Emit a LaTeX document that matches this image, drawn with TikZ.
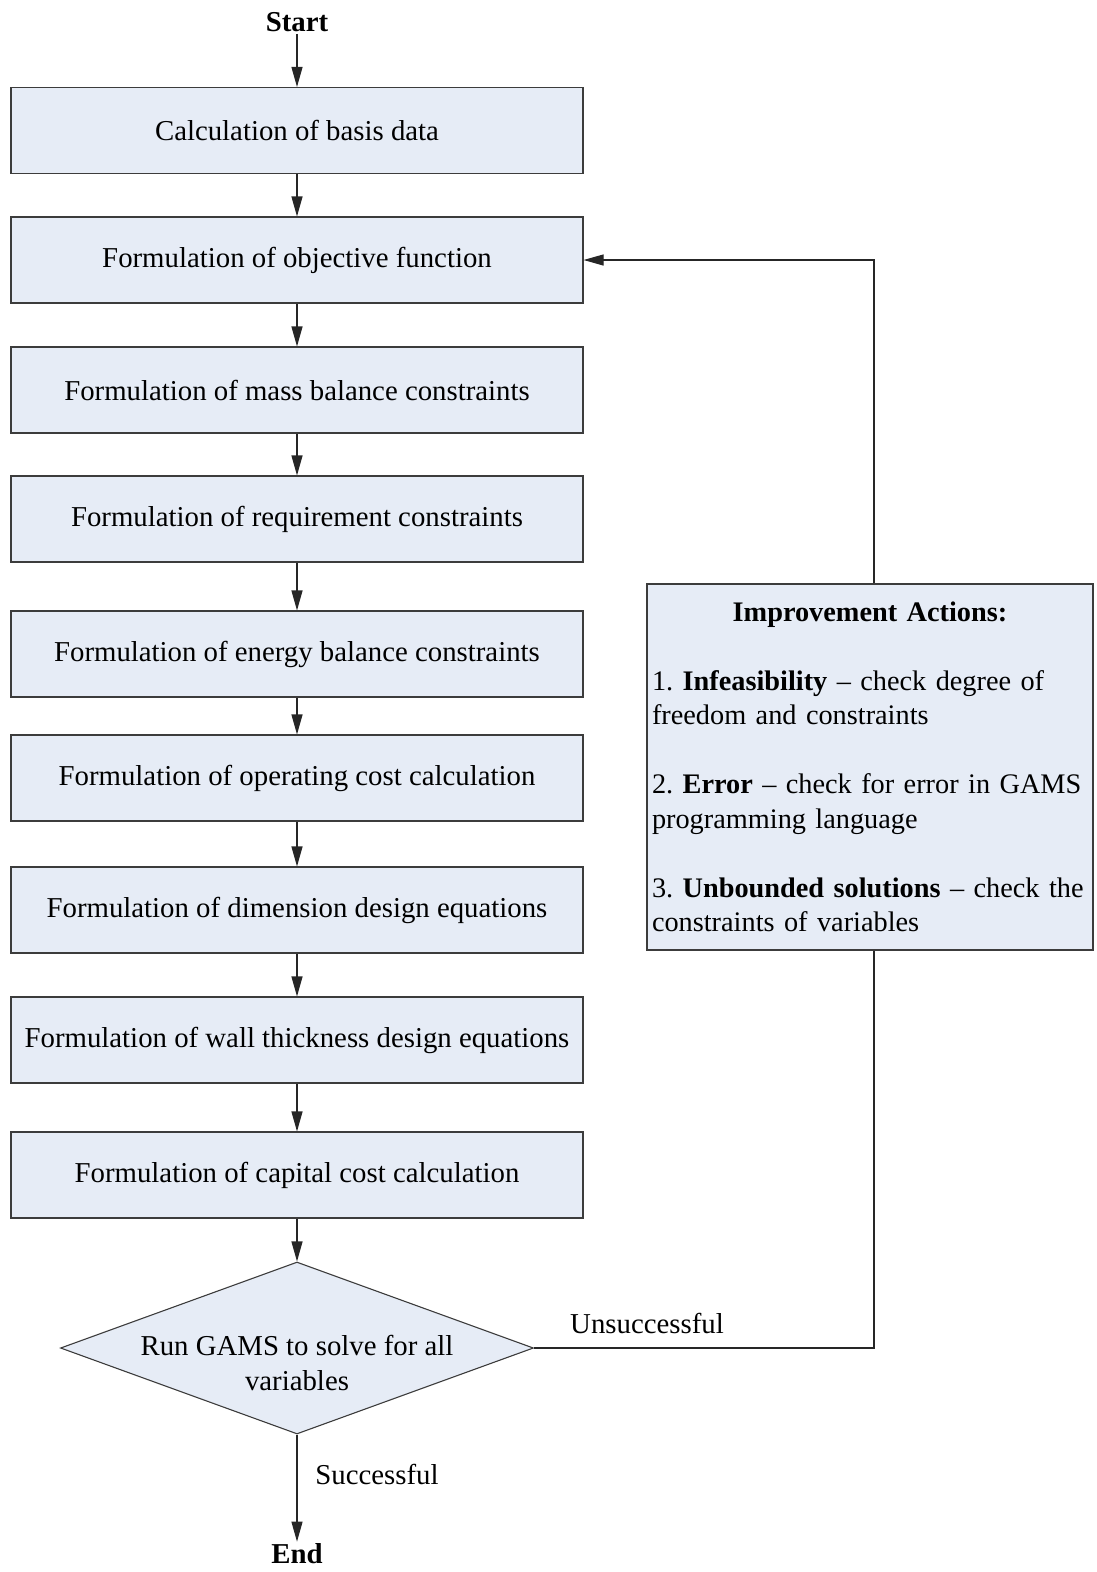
\documentclass[tikz,border=0pt]{standalone}
\usepackage{fontspec}
\setmainfont{Liberation Serif}
\usetikzlibrary{arrows.meta,shapes.geometric}
\definecolor{boxfill}{RGB}{230,236,246}
\definecolor{boxedge}{RGB}{60,60,60}
\tikzset{
  stepbox/.style={draw=boxedge, fill=boxfill, line width=1.1pt, minimum width=572pt, minimum height=86pt, inner sep=0pt, font=\fontsize{28.8}{35}\selectfont},
  conn/.style={draw=black!85, line width=1.1pt},
  arr/.style={conn, -{Triangle[length=20pt,width=11pt]}},
  lbl/.style={font=\fontsize{28.8}{35}\selectfont, inner sep=2pt},
  term/.style={font=\fontsize{28.8}{35}\selectfont\bfseries, inner sep=2pt}
}
\begin{document}
\frenchspacing
\begin{tikzpicture}[x=1pt,y=-1pt]
\useasboundingbox (0,0) rectangle (1096,1572);
\node[term] (start) at (297,22) {Start};
\node[stepbox] (b1) at (297,130.5) {Calculation of basis data};
\node[stepbox] (b2) at (297,260) {Formulation of objective function};
\node[stepbox] (b3) at (297,390) {Formulation of mass balance constraints};
\node[stepbox] (b4) at (297,519) {Formulation of requirement constraints};
\node[stepbox] (b5) at (297,654) {Formulation of energy balance constraints};
\node[stepbox] (b6) at (297,778) {Formulation of operating cost calculation};
\node[stepbox] (b7) at (297,910) {Formulation of dimension design equations};
\node[stepbox] (b8) at (297,1040) {Formulation of wall thickness design equations};
\node[stepbox] (b9) at (297,1175) {Formulation of capital cost calculation};
\node[draw=boxedge, fill=boxfill, line width=1.1pt, shape=diamond, minimum width=473pt, minimum height=172pt, inner sep=0pt] (dia) at (297,1348) {};
\node[lbl, align=center] (diatext) at (297,1363) {Run GAMS to solve for all\\variables};
\node[term] (end) at (297,1554) {End};
\node[draw=boxedge, fill=boxfill, line width=1.1pt, minimum width=446pt, minimum height=366pt, text width=436pt, inner sep=5pt, align=left, font=\fontsize{28.3}{34.5}\selectfont] (imp) at (870,767) {\makebox[436pt]{\textbf{Improvement Actions:}}\\[34.5pt]1. \textbf{Infeasibility} -- check degree of\\freedom and constraints\\[34.5pt]2. \textbf{Error} -- check for error in GAMS\\programming language\\[34.5pt]3. \textbf{Unbounded solutions} -- check the\\constraints of variables};
\coordinate (fb) at (874,0);
\node[lbl] (unsucc) at (647,1323) {Unsuccessful};
\node[lbl] (succ) at (377,1474) {Successful};
\draw[arr] (start) -- (b1);
\draw[arr] (b1) -- (b2);
\draw[arr] (b2) -- (b3);
\draw[arr] (b3) -- (b4);
\draw[arr] (b4) -- (b5);
\draw[arr] (b5) -- (b6);
\draw[arr] (b6) -- (b7);
\draw[arr] (b7) -- (b8);
\draw[arr] (b8) -- (b9);
\draw[arr] (b9) -- (dia);
\draw[arr] (dia.south) -- (end);
\draw[arr] (imp.north -| fb) |- (b2.east);
\draw[conn] (imp.south -| fb) |- (dia.east);
\end{tikzpicture}
\end{document}
